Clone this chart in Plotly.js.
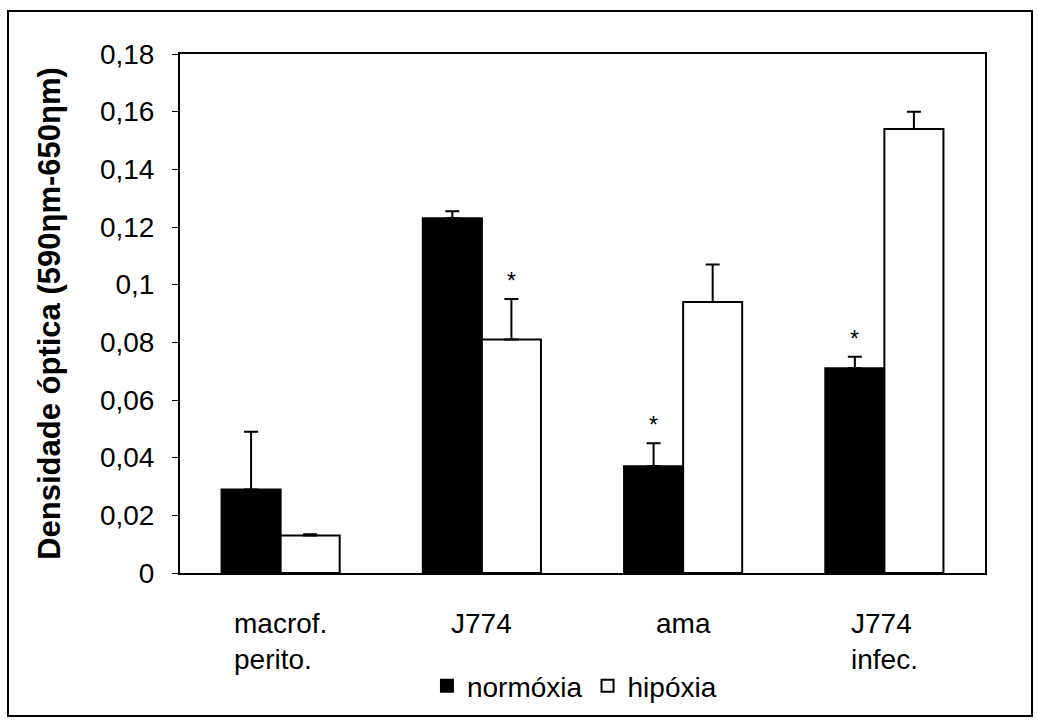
<!DOCTYPE html>
<html>
<head>
<meta charset="utf-8">
<script src="https://cdn.plot.ly/plotly-3.0.1.min.js"></script>
<style>
  html, body { margin: 0; padding: 0; background: white; }
  #wrap { position: relative; width: 1038px; height: 723px; }
  #chart { position: absolute; left: 0; top: 0; width: 1038px; height: 723px; }
  #frame { position: absolute; left: 7px; top: 10px; width: 1022px; height: 703px;
           border: 2px solid black; pointer-events: none; }
</style>
</head>
<body>
<div id="wrap">
  <div id="chart"></div>
  <div id="frame"></div>
</div>
<script>
// ---- data ----
const categories = ['macrof. perito.', 'J774', 'ama', 'J774 infec.'];
const categoryLabels = ['macrof.<br>perito.', 'J774', 'ama', 'J774<br>infec.'];
const normoxia = [0.029, 0.123, 0.037, 0.071];
const normoxiaErr = [0.020, 0.0025, 0.008, 0.004];
const hypoxia = [0.013, 0.081, 0.094, 0.154];
const hypoxiaErr = [0.0004, 0.014, 0.013, 0.006];
const normoxiaSig = [false, false, true, true];
const hypoxiaSig = [false, true, false, false];
const seriesNames = ['normóxia', 'hipóxia'];
const yTitle = 'Densidade óptica (590ηm-650ηm)';

// ---- layout settings ----
const W = 1038, H = 723;
const margin = { l: 180, r: 53, t: 54, b: 145 };
const bargap = 0.413;
const plotW = W - margin.l - margin.r;
const catPx = plotW / categories.length;
const barOffsetPx = catPx * (1 - bargap) / 4;
const fontFamily = '"Liberation Sans", Arial, Helvetica, sans-serif';

const errStyle = { type: 'data', symmetric: false, color: 'black', thickness: 2, width: 7 };

const traces = [
  {
    type: 'bar', name: seriesNames[0], x: categories, y: normoxia,
    marker: { color: 'black', line: { color: 'black', width: 2 } },
    error_y: Object.assign({}, errStyle, { array: normoxiaErr, arrayminus: normoxiaErr.map(() => 0) })
  },
  {
    type: 'bar', name: seriesNames[1], x: categories, y: hypoxia,
    marker: { color: 'white', line: { color: 'black', width: 2 } },
    error_y: Object.assign({}, errStyle, { array: hypoxiaErr, arrayminus: hypoxiaErr.map(() => 0) })
  }
];

const annotations = [];
// category labels (left-aligned lines, as in the reference)
categories.forEach((c, i) => {
  annotations.push({
    x: c, xref: 'x', y: 0, yref: 'paper', yanchor: 'top', xanchor: 'center',
    yshift: -33, text: categoryLabels[i], showarrow: false, align: 'left',
    font: { size: 28, color: 'black', family: fontFamily }
  });
});
// significance stars
function addStars(vals, errs, sig, sign) {
  vals.forEach((v, i) => {
    if (!sig[i]) return;
    annotations.push({
      x: categories[i], xref: 'x', y: v + errs[i], yref: 'y', yanchor: 'bottom',
      xanchor: 'center', xshift: sign * barOffsetPx, yshift: 3,
      text: '*', showarrow: false, font: { size: 23, color: 'black', family: fontFamily }
    });
  });
}
addStars(normoxia, normoxiaErr, normoxiaSig, -1);
addStars(hypoxia, hypoxiaErr, hypoxiaSig, 1);

const layout = {
  width: W, height: H, margin: margin,
  paper_bgcolor: 'white', plot_bgcolor: 'white',
  font: { family: fontFamily, size: 28, color: 'black' },
  separators: ',.',
  barmode: 'group', bargap: bargap, bargroupgap: 0,
  showlegend: true,
  legend: {
    orientation: 'h', x: 0.49, xanchor: 'center', y: -0.218, yanchor: 'middle',
    font: { size: 28, color: 'black' }, bgcolor: 'rgba(0,0,0,0)', itemwidth: 30
  },
  xaxis: {
    showline: true, mirror: true, linecolor: 'black', linewidth: 2,
    showticklabels: false, ticks: '', showgrid: false, zeroline: false
  },
  yaxis: {
    range: [0, 0.18], tick0: 0, dtick: 0.02,
    showline: true, mirror: true, linecolor: 'black', linewidth: 2,
    ticks: 'outside', ticklen: 6, tickwidth: 1, tickcolor: 'black',
    showgrid: false, zeroline: false, ticklabelstandoff: 12,
    tickfont: { size: 28, color: 'black' },
    title: { text: '<b>' + yTitle + '</b>', font: { size: 31, color: 'black' }, standoff: 30 }
  },
  annotations: annotations
};

Plotly.newPlot('chart', traces, layout, { staticPlot: true, displayModeBar: false });
</script>
</body>
</html>
